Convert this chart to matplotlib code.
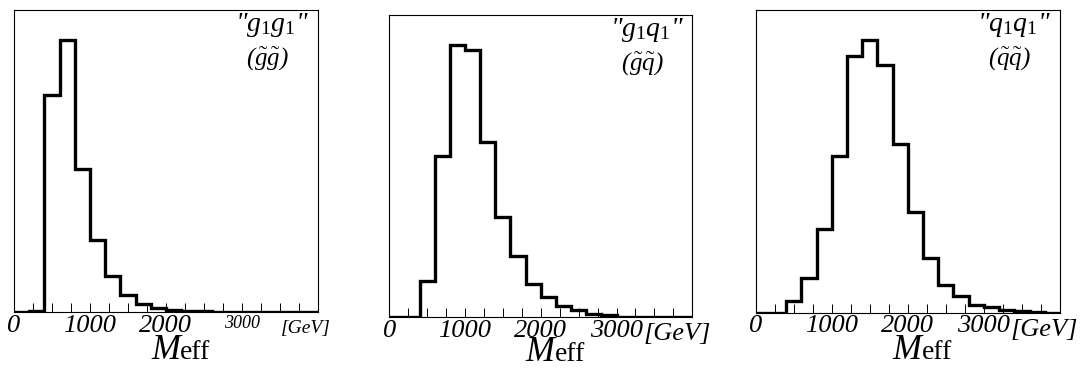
import matplotlib
matplotlib.use("Agg")
import matplotlib.pyplot as plt
import numpy as np

# M_eff distributions, 200 GeV bins from 0 to 4000 GeV (arbitrary units)
bin_edges = np.arange(0, 4001, 200)

gg_counts = [0, 4, 652, 815, 430, 215, 107, 52, 23, 13, 5, 3, 2, 1, 0, 0, 0, 0, 0, 0]
gq_counts = [0, 0, 109, 487, 819, 805, 527, 302, 184, 100, 62, 34, 22, 9, 7, 0, 0, 0, 0, 0]
qq_counts = [0, 0, 35, 105, 251, 471, 770, 818, 743, 505, 301, 163, 83, 51, 23, 18, 8, 5, 3, 0]

channel_names = ['"$g_1g_1$"', '"$g_1q_1$"', '"$q_1q_1$"']
pair_names = [r"($\tilde{g}\tilde{g}$)", r"($\tilde{g}\tilde{q}$)", r"($\tilde{q}\tilde{q}$)"]
tick_values = [0, 1000, 2000, 3000]
tick_labels = ["0", "1000", "2000", "3000"]

plt.rcParams["font.family"] = "Liberation Serif"
plt.rcParams["mathtext.fontset"] = "custom"
plt.rcParams["mathtext.it"] = "Liberation Serif:italic"
plt.rcParams["mathtext.rm"] = "Liberation Serif"

fig = plt.figure(figsize=(10.82, 3.68), dpi=100)

# axes boxes in figure fraction: left, bottom, width, height
boxes = [
    [0.0129, 0.1522, 0.2810, 0.8207],
    [0.3598, 0.1378, 0.2800, 0.8207],
    [0.6984, 0.1503, 0.2812, 0.8226],
]
# baseline of the M_eff title (figure fraction)
title_base = [0.024, 0.018, 0.024]
all_counts = [gg_counts, gq_counts, qq_counts]

for i in range(3):
    ax = fig.add_axes(boxes[i])
    counts = all_counts[i]
    ax.stairs(counts, bin_edges, color="black", lw=2.4)
    ax.set_xlim(0, 4000)
    ax.set_ylim(0, max(counts) / 0.9)
    ax.set_yticks([])
    for s in ax.spines.values():
        s.set_linewidth(0.8)

    ax.set_xticks(tick_values)
    ax.set_xticks(np.arange(0, 4000, 250), minor=True)
    ax.tick_params(axis="x", which="both", direction="in", length=6.5, width=0.7, pad=2)
    ax.set_xticklabels(tick_labels, fontsize=19, fontstyle="italic")

    if i == 0:
        # the right-most labels are squeezed in the first panel
        ax.get_xticklabels()[3].set_fontsize(13)
        ax.text(3840, -0.025, "[GeV]", transform=ax.get_xaxis_transform(),
                ha="center", va="top", fontsize=14, fontstyle="italic")
    else:
        ax.text(3350, -0.02, "[GeV]", transform=ax.get_xaxis_transform(),
                ha="left", va="top", fontsize=19, fontstyle="italic")

    # axis title: big italic M followed by upright "eff"
    left, bottom, width, height = boxes[i]
    xm = left + 0.546 * width
    fig.text(xm, title_base[i], "M", ha="right", va="baseline",
             fontsize=25, fontstyle="italic")
    fig.text(xm, title_base[i], "eff", ha="left", va="baseline", fontsize=20)

    ax.text(0.85, 0.95, channel_names[i], transform=ax.transAxes,
            ha="center", va="center", fontsize=20, fontstyle="italic")
    ax.text(0.835, 0.84, pair_names[i], transform=ax.transAxes,
            ha="center", va="center", fontsize=18, fontstyle="italic")

fig.savefig("out.png", dpi=100)
